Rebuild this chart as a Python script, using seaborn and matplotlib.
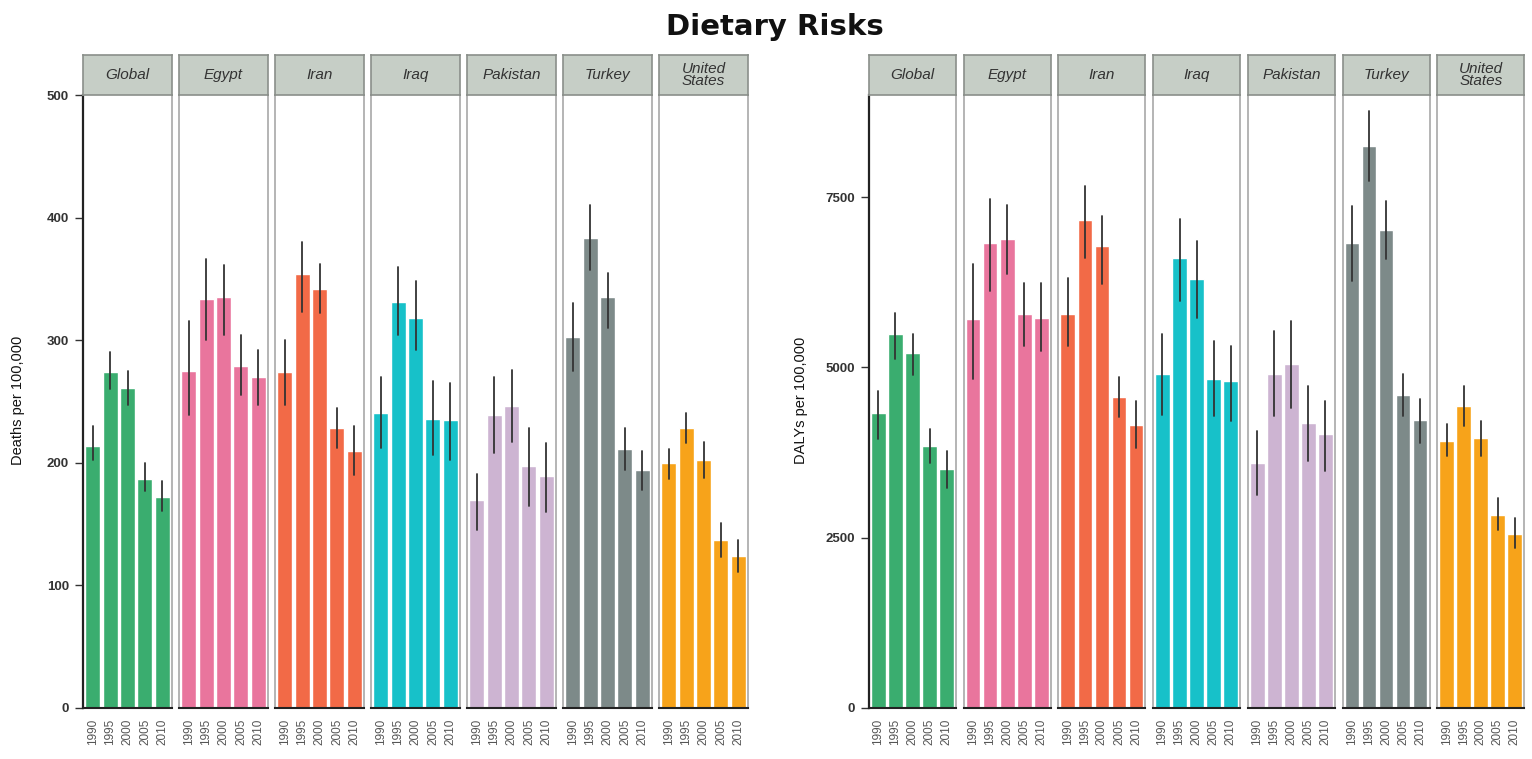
import numpy as np
import pandas as pd
import matplotlib
matplotlib.use("Agg")
import matplotlib.pyplot as plt
import seaborn as sns

sns.set_style("white")
plt.rcParams['font.family'] = ['Liberation Sans', 'DejaVu Sans']

years = ["1990", "1995", "2000", "2005", "2010"]
regions = ["Global", "Egypt", "Iran", "Iraq", "Pakistan", "Turkey", "United\nStates"]
region_colors = ["#3aad6f", "#e9759d", "#f26a47", "#17c1c9", "#cdb4d2", "#7d8a89", "#f7a31a"]

# Deaths per 100,000 (value, lower, upper) per region, per year
deaths_val = [[214, 274, 261, 187, 172],
              [275, 334, 335, 279, 270],
              [274, 354, 342, 228, 210],
              [241, 331, 318, 236, 235],
              [170, 239, 246, 197, 189],
              [303, 383, 335, 211, 194],
              [200, 228, 202, 137, 124]]
deaths_lo = [[202, 260, 247, 177, 161],
             [239, 300, 304, 255, 247],
             [247, 323, 322, 212, 190],
             [212, 304, 292, 206, 202],
             [145, 208, 217, 165, 160],
             [275, 357, 310, 194, 178],
             [187, 216, 188, 123, 111]]
deaths_hi = [[230, 290, 275, 200, 185],
             [316, 366, 361, 304, 292],
             [300, 380, 362, 245, 230],
             [270, 360, 348, 267, 265],
             [191, 270, 276, 228, 216],
             [330, 410, 355, 228, 210],
             [211, 241, 217, 151, 137]]

# DALYs per 100,000
dalys_val = [[4335, 5492, 5214, 3852, 3515],
             [5712, 6825, 6884, 5785, 5727],
             [5785, 7162, 6781, 4570, 4159],
             [4906, 6605, 6298, 4833, 4804],
             [3603, 4906, 5053, 4189, 4028],
             [6825, 8246, 7015, 4599, 4233],
             [3925, 4438, 3969, 2827, 2548]]
dalys_lo = [[3954, 5126, 4892, 3603, 3237],
            [4833, 6122, 6371, 5316, 5243],
            [5316, 6605, 6224, 4277, 3823],
            [4306, 5976, 5727, 4291, 4218],
            [3120, 4291, 4408, 3632, 3486],
            [6268, 7733, 6591, 4291, 3896],
            [3705, 4145, 3705, 2607, 2343]]
dalys_hi = [[4657, 5800, 5492, 4100, 3779],
            [6517, 7469, 7381, 6239, 6239],
            [6312, 7660, 7220, 4862, 4511],
            [5492, 7177, 6854, 5390, 5316],
            [4072, 5536, 5683, 4731, 4511],
            [7367, 8758, 7440, 4906, 4540],
            [4174, 4731, 4218, 3076, 2783]]

death_ticks = [0, 100, 200, 300, 400, 500]
daly_ticks = [0, 2500, 5000, 7500]

W, H = 1532, 759
fig = plt.figure(figsize=(W / 100, H / 100), dpi=100)

fig.text(775 / W, 1 - 27 / H, "Dietary Risks", ha="center", va="center",
         fontsize=21, fontweight="bold", color="#111111", family="DejaVu Sans")


def long_df(vals, lo, hi, i):
    rows = []
    for j, y in enumerate(years):
        for v in (lo[i][j], vals[i][j], hi[i][j]):
            rows.append({"year": y, "value": v})
    return pd.DataFrame(rows)


def draw_panel(x0, step, width, vals, lo, hi, ymax, ticks, ylabel, ylabel_x):
    top_px, bot_px, strip_px = 95, 708, 55
    axes = []
    for i, reg in enumerate(regions):
        left = (x0 + i * step) / W
        ax = fig.add_axes([left, 1 - bot_px / H, width / W, (bot_px - top_px) / H])
        df = long_df(vals, lo, hi, i)
        sns.barplot(data=df, x="year", y="value", order=years, estimator="median",
                    errorbar=("pi", 100), color=region_colors[i], saturation=1,
                    width=0.86, err_kws={"color": "#333333", "linewidth": 1.3},
                    ax=ax)
        ax.set_ylim(0, ymax)
        ax.set_xlim(-0.55, 4.55)
        ax.set_xlabel("")
        ax.set_ylabel("")
        ax.tick_params(axis="x", labelrotation=90, labelsize=8.5,
                       length=5, width=1, direction="out", pad=3, color="#111111")
        for lab in ax.get_xticklabels():
            lab.set_color("#555555")
        for s in ["left", "right"]:
            ax.spines[s].set_visible(True)
            ax.spines[s].set_color("#a8a8a8")
            ax.spines[s].set_linewidth(1.2)
        ax.spines["top"].set_visible(False)
        ax.spines["bottom"].set_color("#222222")
        ax.spines["bottom"].set_linewidth(1.5)
        if i == 0:
            ax.spines["left"].set_color("#222222")
            ax.spines["left"].set_linewidth(1.6)
            ax.set_yticks(ticks)
            ax.set_yticklabels([str(t) for t in ticks], fontsize=9.5,
                               fontweight="bold", color="#333333")
            ax.tick_params(axis="y", length=6, width=1, color="#333333",
                           direction="out", left=True, pad=4)
        else:
            ax.set_yticks([])
        ax.grid(False)
        # strip header
        sax = fig.add_axes([left, 1 - top_px / H, width / W, (top_px - strip_px) / H])
        sax.set_facecolor("#c6cec6")
        sax.set_xticks([])
        sax.set_yticks([])
        for s in sax.spines.values():
            s.set_visible(True)
            s.set_color("#8a8f8a")
            s.set_linewidth(1.2)
        sax.text(0.5, 0.5, reg, ha="center", va="center", fontsize=11,
                 style="italic", color="#333333", linespacing=0.9,
                 transform=sax.transAxes)
        axes.append(ax)
    fig.text(ylabel_x / W, 1 - 400 / H, ylabel, rotation=90, ha="center",
             va="center", fontsize=10.5, color="#111111")
    return axes


draw_panel(83, 96, 89, deaths_val, deaths_lo, deaths_hi, 500, death_ticks,
           "Deaths per 100,000", 18)
draw_panel(869, 94.7, 87, dalys_val, dalys_lo, dalys_hi, 9000, daly_ticks,
           "DALYs per 100,000", 801)

fig.savefig("out.png", dpi=100, facecolor="white")
